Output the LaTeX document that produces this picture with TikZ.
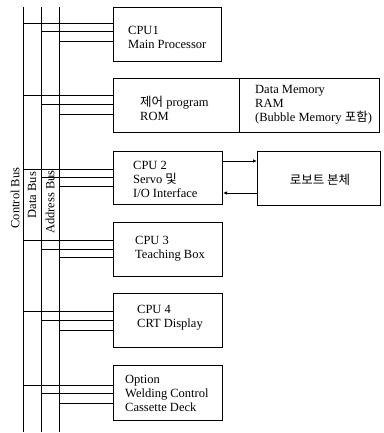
\documentclass[tikz,border=0pt]{standalone}
\usepackage{fontspec}
\setmainfont{Liberation Serif}
\newfontfamily\kr{Noto Sans CJK KR}
\usetikzlibrary{arrows.meta}
\begin{document}
\begin{tikzpicture}[x=1pt,y=-1pt,
  every node/.style={font=\fontsize{12.5}{14}\selectfont},
  box/.style={draw,line width=1pt,rectangle,inner sep=0pt,anchor=north west},
  txt/.style={align=left,anchor=west,inner sep=0pt},
  wire/.style={line width=1pt},
  lbl/.style={rotate=90,inner sep=0pt}]
\useasboundingbox (0,0) rectangle (383,433);
% bus lines
\coordinate (cbT) at (23,7);  \coordinate (cbB) at (23,432);
\coordinate (dbT) at (41,7);  \coordinate (dbB) at (41,432);
\coordinate (abT) at (59,7);  \coordinate (abB) at (59,432);
\draw[wire] (cbT) -- (cbB);
\draw[wire] (dbT) -- (dbB);
\draw[wire] (abT) -- (abB);
\node[lbl] (cbl) at (15,198) {Control Bus};
\node[lbl] (dbl) at (32,195) {Data Bus};
\node[lbl] (abl) at (50,202) {Address Bus};
% boxes
\node[box,minimum width=108pt,minimum height=54pt] (cpu1) at (113,7) {};
\node[box,minimum width=126pt,minimum height=54pt] (rom) at (113,78) {};
\node[box,minimum width=140pt,minimum height=54pt] (ram) at (239,78) {};
\node[box,minimum width=109pt,minimum height=53pt] (cpu2) at (113,151) {};
\node[box,minimum width=123pt,minimum height=54pt] (robot) at (257,151) {};
\node[box,minimum width=109pt,minimum height=54pt] (cpu3) at (113,222) {};
\node[box,minimum width=109pt,minimum height=54pt] (cpu4) at (113,293) {};
\node[box,minimum width=109pt,minimum height=55pt] (opt) at (113,365) {};
% texts
\node[txt] (t1) at (128,37) {CPU1\\Main Processor};
\node[txt] (t2) at (140,108) {{\kr 제어} program\\ROM};
\node[txt] (t3) at (255,105) {Data Memory\\RAM\\(Bubble Memory {\kr 포함})};
\node[txt] (t4) at (133,179) {CPU 2\\Servo {\kr 및}\\I/O Interface};
\node[inner sep=0pt] (t5) at (320,180) {\kr 로보트 본체};
\node[txt] (t6) at (135,249) {CPU 3\\Teaching Box};
\node[txt] (t7) at (137,318) {CPU 4\\CRT Display};
\node[txt] (t8) at (125,393) {Option\\Welding Control\\Cassette Deck};
% bus connections
\foreach \b/\c/\d/\a in {cpu1/24/32/42, rom/96/105/114, cpu2/169/177/186,
                         cpu3/240/249/257, cpu4/311/320/330, opt/385/393/403}{
  \draw[wire] (cbT |- 0,\c) -- (\b.west |- 0,\c);
  \draw[wire] (dbT |- 0,\d) -- (\b.west |- 0,\d);
  \draw[wire] (abT |- 0,\a) -- (\b.west |- 0,\a);
}
% CPU2 <-> robot
\draw[wire,-{Latex[length=4pt,width=3.5pt]}] (cpu2.east |- 0,161) -- (robot.west |- 0,161);
\draw[wire,-{Latex[length=4pt,width=3.5pt]}] (robot.west |- 0,193) -- (cpu2.east |- 0,193);
\end{tikzpicture}
\end{document}
